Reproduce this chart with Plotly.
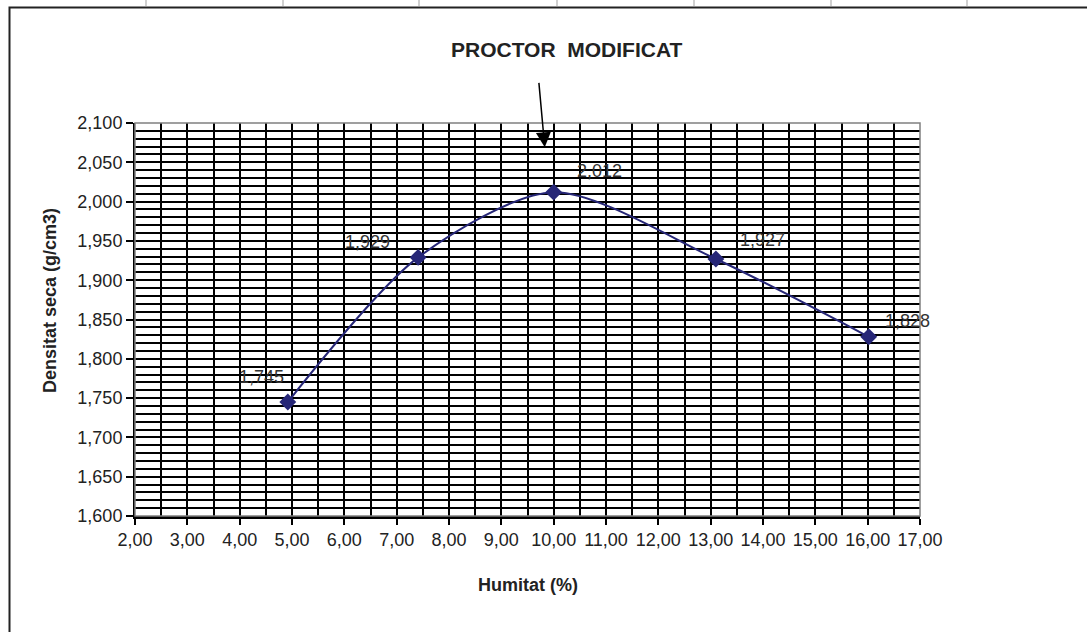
import plotly.graph_objects as go

# data
humitat = [4.92, 7.41, 10.00, 13.10, 16.02]
densitat = [1.745, 1.929, 2.012, 1.927, 1.828]
label_texts = ["1,745", "1,929", "2,012", "1,927", "1,828"]

# pixel offsets of the data labels relative to their points
label_dx = [-26, -51, 46, 47, 39]
label_dy = [25, 15, 21, 19, 16]

W, H = 1087, 632
L, R, T, B = 135, 167, 123, 116
PW, PH = W - L - R, H - T - B


def px(x):
    return (x - L) / PW


def py(y):
    return (H - B - y) / PH


FONT = "Liberation Sans, Arial, sans-serif"
NAVY = "#262677"

fig = go.Figure()
fig.add_trace(go.Scatter(
    x=humitat, y=densitat, mode="lines+markers",
    line=dict(color=NAVY, width=2, shape="spline", smoothing=0.8),
    marker=dict(symbol="diamond", size=13, color=NAVY),
    showlegend=False, hoverinfo="x+y",
))

annotations = []
for x, y, t, dx, dy in zip(humitat, densitat, label_texts, label_dx, label_dy):
    annotations.append(dict(
        x=x, y=y, text=t, showarrow=False, xshift=dx, yshift=dy,
        font=dict(family=FONT, size=18, color="#333333"),
    ))

# arrow pointing to the maximum
annotations.append(dict(
    x=9.83, y=2.069, ax=-6, ay=-66, showarrow=True,
    arrowhead=2, arrowsize=2, arrowwidth=1.5, arrowcolor="black", text="",
))

titles = [
    (567, 50, "<b>PROCTOR  MODIFICAT</b>", 21, 0),
    (50, 301, "<b>Densitat seca (g/cm3)</b>", 18, -90),
    (528, 585, "<b>Humitat (%)</b>", 18, 0),
]
for tx, ty, text, size, angle in titles:
    annotations.append(dict(
        xref="paper", yref="paper", x=px(tx), y=py(ty),
        xanchor="center", yanchor="middle", showarrow=False,
        text=text, textangle=angle,
        font=dict(family=FONT, size=size, color="#222222"),
    ))

shapes = []
# chart area border
shapes.append(dict(
    type="rect", xref="paper", yref="paper",
    x0=px(9.5), y0=py(700), x1=px(1200), y1=py(7.5),
    line=dict(color="#222222", width=2), layer="below",
))
# spreadsheet cell lines peeking above the chart
for cx in [146, 283, 419, 557, 694, 831, 967]:
    shapes.append(dict(
        type="line", xref="paper", yref="paper",
        x0=px(cx), x1=px(cx), y0=py(6), y1=py(0),
        line=dict(color="#d0d0d0", width=2), layer="below",
    ))
# plot area frame (gray top/right)
shapes.append(dict(
    type="rect", xref="paper", yref="paper", x0=0, y0=0, x1=1, y1=1,
    line=dict(color="#808080", width=1.5), layer="above",
))

fig.update_layout(
    width=W, height=H,
    margin=dict(l=L, r=R, t=T, b=B, pad=0),
    paper_bgcolor="white", plot_bgcolor="white",
    separators=",.",
    font=dict(family=FONT, size=18, color="#222222"),
    annotations=annotations, shapes=shapes,
    xaxis=dict(
        range=[2, 17], dtick=1, tick0=2, tickformat=".2f",
        showgrid=True, gridcolor="black", gridwidth=1.5,
        minor=dict(dtick=0.5, showgrid=True, gridcolor="black", gridwidth=1.5),
        ticks="outside", ticklen=6, tickcolor="black", tickwidth=1.5,
        showline=True, linecolor="black", linewidth=2.5,
        zeroline=False, fixedrange=True,
    ),
    yaxis=dict(
        range=[1.6, 2.1], dtick=0.05, tick0=1.6, tickformat=".3f",
        showgrid=True, gridcolor="black", gridwidth=1.5,
        minor=dict(dtick=0.01, showgrid=True, gridcolor="black", gridwidth=1.5),
        ticks="outside", ticklen=7, tickcolor="black", tickwidth=1.5,
        showline=True, linecolor="black", linewidth=2,
        zeroline=False, fixedrange=True,
    ),
)

# drop the page's default body margin so the figure sits at the window origin
fig.write_html(
    "out.html",
    config={"displayModeBar": False},
    post_script="document.body.style.margin = '0';",
)
